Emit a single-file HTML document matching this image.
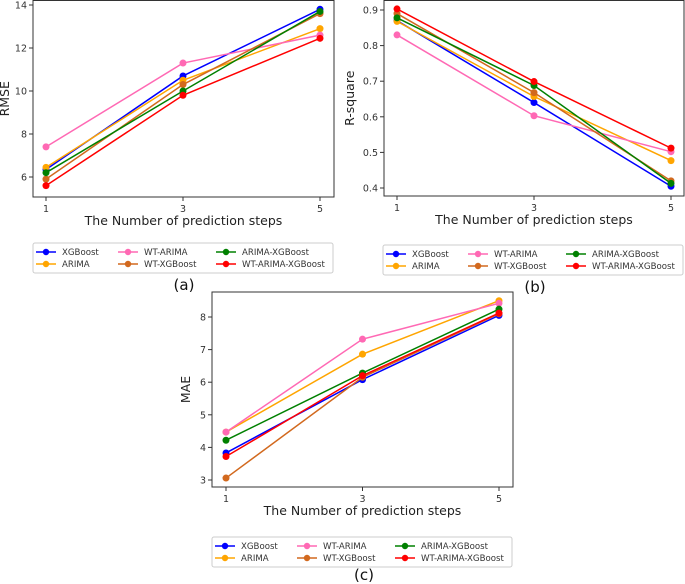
<!DOCTYPE html>
<html><head><meta charset="utf-8"><style>
body{margin:0;background:#fff;}
svg{display:block;font-family:"DejaVu Sans","Liberation Sans",sans-serif;}
</style></head><body>
<svg id="fig" width="685" height="584"></svg>
<script>
const series = ["XGBoost","ARIMA","WT-ARIMA","WT-XGBoost","ARIMA-XGBoost","WT-ARIMA-XGBoost"];
const colors = ["#0000ff","#ffa500","#ff69b4","#d2691e","#008000","#ff0000"];
const steps = [1,3,5];
const rmseVals = [[6.35,10.7,13.8],[6.45,10.5,12.9],[7.4,11.3,12.6],[5.9,10.3,13.6],[6.2,10.0,13.7],[5.6,9.8,12.45]];
const r2Vals = [[0.87,0.64,0.405],[0.868,0.657,0.477],[0.83,0.603,0.502],[0.89,0.668,0.42],[0.878,0.688,0.413],[0.903,0.699,0.512]];
const maeVals = [[3.83,6.08,8.05],[4.47,6.86,8.5],[4.47,7.32,8.42],[3.06,6.15,8.1],[4.22,6.28,8.24],[3.72,6.2,8.12]];
const rmseTicks = [6,8,10,12,14];
const r2Ticks = [0.4,0.5,0.6,0.7,0.8,0.9];
const maeTicks = [3,4,5,6,7,8];

const NS="http://www.w3.org/2000/svg";
const svg=document.getElementById('fig');
function mk(tag,attrs,parent,text){const e=document.createElementNS(NS,tag);for(const k in attrs)e.setAttribute(k,attrs[k]);if(text!==undefined)e.textContent=text;(parent||svg).appendChild(e);return e;}

function chart(cfg){
  const g=mk('g',{});
  
  
  const xs=v=>cfg.x1px+(v-1)/(5-1)*(cfg.x5px-cfg.x1px);
  const ys=v=>cfg.yApx+(v-cfg.yA)/(cfg.yB-cfg.yA)*(cfg.yBpx-cfg.yApx);
  const box=mk('rect',{x:cfg.L,y:cfg.T,width:cfg.R-cfg.L,height:cfg.B-cfg.T,fill:'none',stroke:'#333','stroke-width':1},g);
  
  
  steps.forEach(s=>{
    mk('line',{x1:xs(s),x2:xs(s),y1:cfg.B,y2:cfg.B+4,stroke:'#333'},g);
    const t=mk('text',{x:xs(s),y:cfg.B+15,'text-anchor':'middle','font-size':9.5,fill:'#333'},g,String(s));
    
    
  });
  cfg.ticks.forEach(v=>{
    mk('line',{x1:cfg.L-4,x2:cfg.L,y1:ys(v),y2:ys(v),stroke:'#333'},g);
    const t=mk('text',{x:cfg.L-6,y:ys(v)+3.5,'text-anchor':'end','font-size':9.5,fill:'#333'},g,cfg.fmt(v));
    
    
  });
  const xt=mk('text',{x:(cfg.L+cfg.R)/2,y:cfg.B+28,'text-anchor':'middle','font-size':12.5,fill:'#222'},g,'The Number of prediction steps');
  
  
  const yt=mk('text',{x:0,y:0,'text-anchor':'middle','font-size':12.5,fill:'#222',transform:`translate(${cfg.ylx},${(cfg.T+cfg.B)/2}) rotate(-90)`},g,cfg.ylabel);
  
  
  cfg.vals.forEach((arr,i)=>{
    const pts=arr.map((v,j)=>xs(steps[j])+','+ys(v)).join(' ');
    const pl=mk('polyline',{points:pts,fill:'none',stroke:colors[i],'stroke-width':1.5},g);
    
    
    arr.forEach((v,j)=>{
      const c=mk('circle',{cx:xs(steps[j]),cy:ys(v),r:3.5,fill:colors[i]},g);
      
      
    });
  });
  const lg=mk('g',{},g);
  
  
  mk('rect',{x:cfg.lx,y:cfg.ly,width:300,height:30,fill:'#fff',stroke:'#ccc',rx:2},lg);
  const colX=[cfg.lx+3,cfg.lx+85,cfg.lx+183];
  series.forEach((s,i)=>{
    const col=Math.floor(i/2),row=i%2;
    const x=colX[col],y=cfg.ly+9+row*12;
    const e=mk('g',{},lg);
    
    
    mk('line',{x1:x,x2:x+20,y1:y,y2:y,stroke:colors[i],'stroke-width':1.5},e);
    mk('circle',{cx:x+10,cy:y,r:3.2,fill:colors[i]},e);
    mk('text',{x:x+26,y:y+3.2,'font-size':8.6,fill:'#333'},e,s);
  });
  const cap=mk('text',{x:cfg.capx,y:cfg.capy,'text-anchor':'middle','font-size':15,fill:'#111'},g,cfg.cap);
  
  
}
chart({name:'rmse-chart',L:33,R:334,T:0.5,B:197,x1px:46,x5px:320,yA:6,yApx:177,yB:14,yBpx:5,ticks:rmseTicks,fmt:v=>String(v),vals:rmseVals,ylabel:'RMSE',ylx:9,lx:33,ly:243,cap:'(a)',capx:184,capy:290});
chart({name:'r2-chart',L:384,R:684,T:0.5,B:196,x1px:397,x5px:671,yA:0.4,yApx:188,yB:0.9,yBpx:10,ticks:r2Ticks,fmt:v=>v.toFixed(1),vals:r2Vals,ylabel:'R-square',ylx:354,lx:383,ly:245,cap:'(b)',capx:535,capy:292});
chart({name:'mae-chart',L:212,R:513,T:292,B:487,x1px:226,x5px:499,yA:3,yApx:480,yB:8,yBpx:317,ticks:maeTicks,fmt:v=>String(v),vals:maeVals,ylabel:'MAE',ylx:190,lx:212,ly:537,cap:'(c)',capx:364,capy:580});
</script>
</body></html>
